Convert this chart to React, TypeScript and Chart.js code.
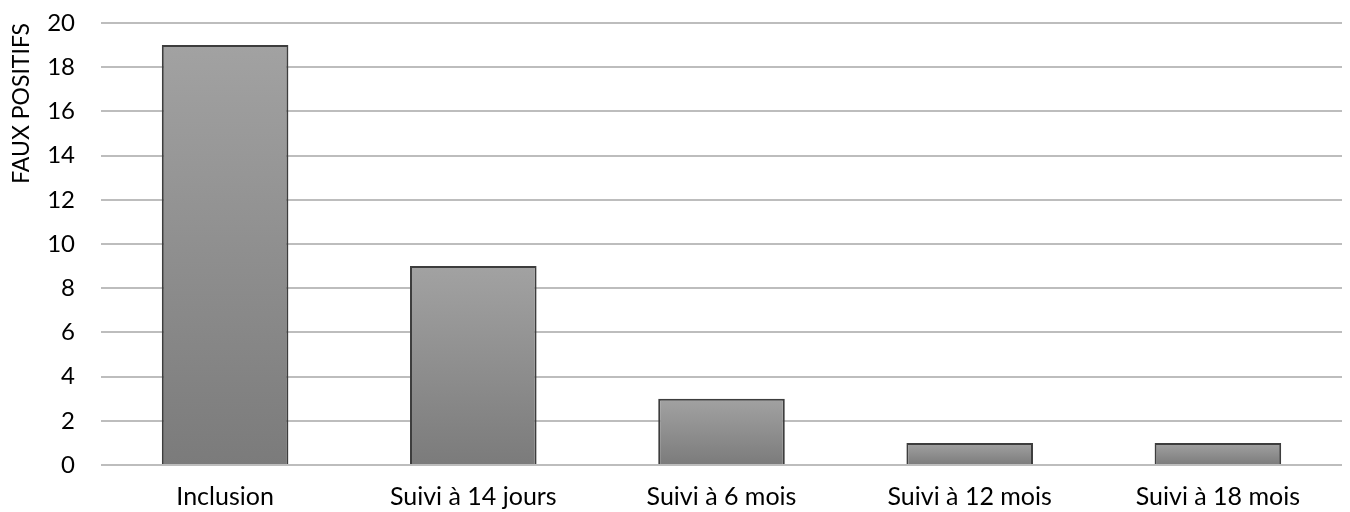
import React, { useEffect, useRef } from "react";
import { Chart, registerables } from "chart.js";

Chart.register(...registerables);

const categories = ["Inclusion", "Suivi à 14 jours", "Suivi à 6 mois", "Suivi à 12 mois", "Suivi à 18 mois"];
const values = [19, 9, 3, 1, 1];
const yTitle = "FAUX POSITIFS";

export default function App() {
  const ref = useRef<HTMLCanvasElement | null>(null);
  useEffect(() => {
    const canvas = ref.current!;
    const chart = new Chart(canvas, {
      type: "bar",
      data: {
        labels: categories,
        datasets: [
          {
            data: values,
            backgroundColor: (ctx: any) => {
              const c = ctx.chart;
              const ys = c.scales && c.scales.y;
              if (!ys || ctx.raw == null) return "#909090";
              const top = ys.getPixelForValue(ctx.raw);
              const bottom = ys.getPixelForValue(0);
              if (!isFinite(top) || !isFinite(bottom) || top === bottom) return "#909090";
              const g = c.ctx.createLinearGradient(0, top, 0, bottom);
              g.addColorStop(0, "#a2a2a2");
              g.addColorStop(1, "#7b7b7b");
              return g;
            },
            borderColor: "#3d3d3d",
            borderWidth: 2,
            borderSkipped: "bottom",
            categoryPercentage: 1,
            barPercentage: 0.51,
          },
        ],
      },
      options: {
        animation: false,
        responsive: false,
        maintainAspectRatio: false,
        layout: { padding: { top: 23, right: 8, left: 8, bottom: 0 } },
        plugins: { legend: { display: false }, tooltip: { enabled: false } },
        scales: {
          x: {
            grid: { display: false, drawTicks: false },
            border: { display: false },
            afterFit: (scale: any) => {
              scale.height = 47;
            },
            ticks: {
              color: "#000",
              font: { family: "Lato", size: 25, lineHeight: 1.2 },
              padding: 17,
              maxRotation: 0,
            },
          },
          y: {
            min: 0,
            max: 20,
            grid: { color: "#bdbdbd", lineWidth: 2, drawTicks: false },
            border: { display: false },
            afterFit: (scale: any) => {
              scale.paddingTop = 0;
              scale.paddingBottom = 0;
              scale.width = 93;
            },
            ticks: {
              stepSize: 2,
              color: "#000",
              font: { family: "Lato", size: 24 },
              padding: 26,
            },
            title: {
              display: true,
              text: yTitle,
              align: "end",
              color: "#000",
              font: { family: "Lato", size: 23 },
              padding: { top: 0, bottom: 6 },
            },
          },
        },
      },
    });
    return () => chart.destroy();
  }, []);
  return (
    <div style={{ position: "fixed", left: 0, top: 0, width: 1350, height: 512, background: "#fff" }}>
      <canvas ref={ref} width={1350} height={512} style={{ width: 1350, height: 512 }} />
    </div>
  );
}
